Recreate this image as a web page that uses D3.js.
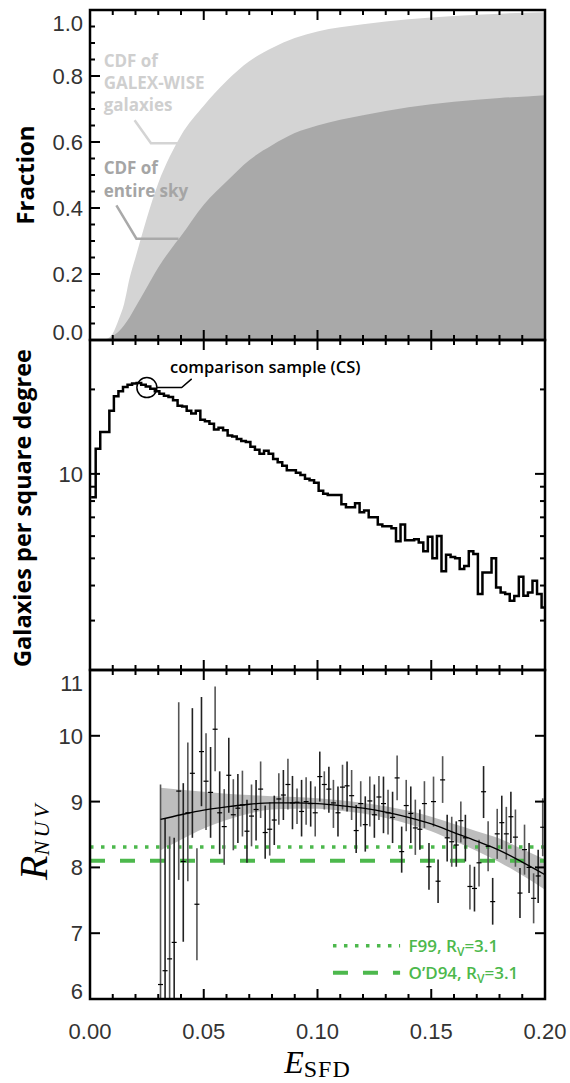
<!DOCTYPE html>
<html>
<head>
<meta charset="utf-8">
<script src="https://cdn.jsdelivr.net/npm/d3@7"></script>
<style>
  html, body { margin: 0; padding: 0; background: #fff; }
  svg { display: block; }
</style>
</head>
<body>
<svg id="sketchbook" width="570" height="1083"></svg>
<script>
/* ---------------------------------------------------------------- *
 * Data
 * ---------------------------------------------------------------- */
// top panel: cumulative fractions
const cdfE        = [0, 0.005, 0.0075, 0.010, 0.0125, 0.015, 0.0175, 0.020, 0.025, 0.030, 0.035, 0.040,
                     0.050, 0.060, 0.070, 0.080, 0.090, 0.100, 0.120, 0.140, 0.160, 0.180, 0.200];
const cdfGalaxies = [0, 0, 0.004, 0.02, 0.06, 0.11, 0.19, 0.25, 0.37, 0.475, 0.555, 0.62,
                     0.71, 0.785, 0.845, 0.885, 0.915, 0.935, 0.957, 0.972, 0.982, 0.989, 0.993];
const cdfSky      = [0, 0, 0, 0.012, 0.025, 0.045, 0.07, 0.10, 0.16, 0.22, 0.27, 0.315,
                     0.41, 0.48, 0.545, 0.59, 0.627, 0.65, 0.681, 0.705, 0.722, 0.733, 0.742];

// middle panel: histogram, bins of 0.002 starting at 0.0005
const binWidth = 0.002;
const binStart = 0.0005;
const galaxyDensity = [
  8.25, 12.3, 14.1, 14.1, 16.8, 18.9, 19.7, 20.4, 20.8, 21.0,
  21.1, 20.8, 20.5, 20.1, 19.7, 19.3, 19.0, 18.8, 18.3, 17.5,
  17.4, 16.8, 16.4, 16.8, 15.6, 15.4, 15.1, 14.4, 14.6, 14.3,
  13.7, 13.6, 13.3, 13.1, 13.0, 12.5, 12.2, 11.8, 12.1, 11.8,
  11.3, 11.0, 10.7, 10.3, 10.3, 10.1, 9.9, 9.6, 9.5, 9.3,
  8.7, 8.5, 8.4, 8.4, 8.4, 7.8, 7.6, 7.6, 7.85, 7.3,
  7.4, 7.0, 7.0, 6.6, 6.5, 6.5, 6.4, 5.75, 6.6, 5.8,
  5.8, 5.85, 5.7, 5.3, 5.97, 5.0, 6.0, 4.5, 5.15, 5.06,
  5.0, 4.58, 4.7, 5.3, 5.18, 3.73, 4.45, 4.45, 5.0, 3.94,
  3.78, 3.73, 3.53, 3.67, 4.3, 3.68, 3.78, 4.16, 3.73, 3.34
];

// bottom panel: R_NUV per E bin (step 0.002 from 0.031)
const rStart = 0.031;
const rStep  = 0.002;
const rNUV = [
  6.22, 6.43, 6.61, 6.86, 9.16, 8.09, 8.83, 9.43, 7.44, 9.76,
  9.31, 9.14, 10.10, 8.83, 8.62, 9.40, 8.80, 8.90, 8.95, 8.55,
  8.78, 8.88, 9.19, 8.53, 8.58, 8.72, 9.04, 9.10, 9.26, 8.98,
  8.99, 8.85, 9.00, 8.97, 8.83, 9.38, 9.26, 9.19, 8.98, 8.83,
  9.22, 9.24, 9.09, 8.56, 8.97, 8.65, 9.01, 8.80, 9.07, 8.97,
  8.83, 8.76, 9.36, 8.24, 8.94, 8.82, 8.60, 8.58, 8.97, 8.01,
  9.00, 7.79, 9.33, 8.45, 8.39, 8.34, 8.71, 8.45, 7.71, 7.68,
  8.07, 9.15, 8.32, 7.48, 8.51, 8.68, 8.51, 8.77, 8.46, 7.61,
  8.27, 8.00, 7.53, 7.87, 8.61
];
const rNUVHigh = [
  9.26, 8.75, 8.47, 8.45, 10.51, 9.28, 9.90, 10.42, 8.29, 10.59,
  10.04, 9.83, 10.75, 9.46, 9.19, 9.97, 9.34, 9.42, 9.47, 9.03,
  9.26, 9.33, 9.61, 8.94, 8.99, 9.09, 9.43, 9.48, 9.65, 9.39,
  9.20, 9.33, 9.37, 9.31, 9.23, 9.76, 9.46, 9.53, 9.33, 9.23,
  9.56, 9.61, 9.48, 8.95, 9.31, 9.08, 9.38, 9.26, 9.39, 9.38,
  9.18, 9.15, 9.70, 8.62, 9.33, 9.23, 9.03, 8.88, 9.31, 8.37,
  9.38, 8.12, 9.69, 8.80, 8.77, 8.70, 9.00, 8.80, 8.04, 8.01,
  8.42, 9.54, 8.70, 7.84, 8.89, 9.09, 8.92, 9.15, 8.88, 7.99,
  8.65, 8.37, 7.91, 8.27, 9.05
];
const rNUVLow = [
  3.18, 4.11, 4.75, 5.27, 7.81, 6.87, 7.79, 8.45, 6.59, 8.93,
  8.57, 8.45, 9.46, 8.20, 8.04, 8.83, 8.26, 8.37, 8.47, 8.07,
  8.32, 8.41, 8.75, 8.13, 8.18, 8.34, 8.65, 8.72, 8.88, 8.58,
  8.66, 8.47, 8.65, 8.62, 8.47, 9.00, 8.88, 8.83, 8.60, 8.47,
  8.88, 8.85, 8.72, 8.22, 8.62, 8.24, 8.62, 8.45, 8.72, 8.52,
  8.50, 8.37, 9.02, 7.92, 8.55, 8.37, 8.19, 8.27, 8.60, 7.66,
  8.62, 7.46, 8.98, 8.09, 8.01, 8.01, 8.38, 8.09, 7.36, 7.33,
  7.71, 8.75, 7.94, 7.13, 8.13, 8.28, 8.12, 8.37, 8.01, 7.23,
  7.89, 7.61, 7.15, 7.46, 8.17
];

// fit and its confidence band
const fitE     = [0.031, 0.04, 0.05, 0.06, 0.07, 0.08, 0.09, 0.10, 0.11, 0.12, 0.13, 0.14, 0.15, 0.16, 0.17, 0.18, 0.19, 0.20];
const fitR     = [8.73, 8.80, 8.87, 8.92, 8.96, 8.98, 8.98, 8.97, 8.94, 8.90, 8.84, 8.76, 8.66, 8.53, 8.40, 8.26, 8.08, 7.89];
const fitUpper = [9.21, 9.18, 9.15, 9.12, 9.10, 9.08, 9.07, 9.05, 9.02, 8.98, 8.93, 8.86, 8.77, 8.66, 8.55, 8.44, 8.28, 8.12];
const fitLower = [8.26, 8.42, 8.59, 8.72, 8.82, 8.88, 8.89, 8.89, 8.86, 8.82, 8.75, 8.66, 8.55, 8.40, 8.25, 8.08, 7.88, 7.66];

// reference lines
const refF99  = 8.31;
const refOD94 = 8.10;

// ticks
const xMajor     = [0, 0.05, 0.10, 0.15, 0.20];
const xMajorText = ["0.00", "0.05", "0.10", "0.15", "0.20"];
const fracMajor  = [0, 0.2, 0.4, 0.6, 0.8, 1.0];
const fracText   = ["0.0", "0.2", "0.4", "0.6", "0.8", "1.0"];
const densMajor  = [10];
const densMinor  = [2, 3, 4, 5, 6, 7, 8, 9, 20, 30];
const rMajor     = [6, 7, 8, 9, 10, 11];

/* ---------------------------------------------------------------- *
 * Layout
 * ---------------------------------------------------------------- */
const L = 90, R = 545;
const P1 = { top: 10,  bottom: 340 };
const P2 = { top: 340, bottom: 670 };
const P3 = { top: 670, bottom: 999 };

const GREEN = "#4cb84c";
const LIGHT = "#d4d4d4";
const DARK  = "#a9a9a9";
const TICKFONT = "'Liberation Sans', Arial, sans-serif";
const LABFONT  = "'Open Sans', 'DejaVu Sans', sans-serif";
const SERIF    = "'Liberation Serif', 'DejaVu Serif', serif";

const svg = d3.select("#sketchbook");

const x  = d3.scaleLinear().domain([0, 0.2]).range([L, R]);
const y1 = d3.scaleLinear().domain([0, 1]).range([P1.bottom, P1.top]);
const y2 = d3.scaleLog().domain([2, 30]).range([P2.bottom, P2.top]);
const y3 = d3.scaleLinear().domain([6, 11]).range([P3.bottom, P3.top]);

// clip paths, one per panel
const defs = svg.append("defs");
[P1, P2, P3].forEach((p, i) => {
    defs.append("clipPath").attr("id", "clip" + i)
        .append("rect")
        .attr("x", L).attr("y", p.top)
        .attr("width", R - L).attr("height", p.bottom - p.top);
});

/* ---------------------------------------------------------------- *
 * Panel 1 : CDFs
 * ---------------------------------------------------------------- */
const g1 = svg.append("g").attr("clip-path", "url(#clip0)");

const areaOf = (vals) => d3.area()
    .x((d, i) => x(cdfE[i]))
    .y0(y1(0))
    .y1((d, i) => y1(vals[i]))
    .curve(d3.curveMonotoneX)(vals);

g1.append("path").attr("d", areaOf(cdfGalaxies)).attr("fill", LIGHT);
g1.append("path").attr("d", areaOf(cdfSky)).attr("fill", DARK);

// labels with leader lines
const leader = d3.line().x(d => x(d[0])).y(d => y1(d[1]));
svg.append("path")
    .attr("d", leader([[0.0196, 0.666], [0.0268, 0.596], [0.0389, 0.596]]))
    .attr("fill", "none").attr("stroke", LIGHT).attr("stroke-width", 2.5);
svg.append("path")
    .attr("d", leader([[0.0116, 0.408], [0.0204, 0.307], [0.0389, 0.307]]))
    .attr("fill", "none").attr("stroke", DARK).attr("stroke-width", 2.5);

const cdfLabel = (lines, fracs, color) => {
    lines.forEach((t, i) => {
        svg.append("text")
            .attr("x", x(0.006)).attr("y", y1(fracs[i]))
            .attr("font-family", LABFONT).attr("font-weight", 700)
            .attr("font-size", 17).attr("fill", color)
            .text(t);
    });
};
cdfLabel(["CDF of", "GALEX-WISE", "galaxies"], [0.828, 0.761, 0.694], "#cfcfcf");
cdfLabel(["CDF of", "entire sky"], [0.502, 0.432], "#a5a5a5");

/* ---------------------------------------------------------------- *
 * Panel 2 : histogram
 * ---------------------------------------------------------------- */
const g2 = svg.append("g").attr("clip-path", "url(#clip1)");
const histPts = galaxyDensity.map((v, i) => [binStart + i * binWidth, v]);
histPts.push([binStart + galaxyDensity.length * binWidth, galaxyDensity[galaxyDensity.length - 1]]);

g2.append("path")
    .attr("d", d3.line().x(d => x(d[0])).y(d => y2(d[1])).curve(d3.curveStepAfter)(histPts))
    .attr("fill", "none").attr("stroke", "#000").attr("stroke-width", 2.5)
    .attr("stroke-linejoin", "miter");

// comparison sample annotation
const csE = 0.025, csV = 20.3;
svg.append("circle")
    .attr("cx", x(csE)).attr("cy", y2(csV)).attr("r", 10)
    .attr("fill", "none").attr("stroke", "#000").attr("stroke-width", 1.5);
svg.append("path")
    .attr("d", d3.line()([[x(csE) + 10, y2(csV)], [x(0.0403), y2(csV)], [x(0.0447), y2(21.8)]]))
    .attr("fill", "none").attr("stroke", "#000").attr("stroke-width", 1.5);
svg.append("text")
    .attr("x", x(0.0352)).attr("y", y2(22.8))
    .attr("font-family", LABFONT).attr("font-weight", 600)
    .attr("font-size", 16.5).attr("fill", "#000")
    .text("comparison sample (CS)");

/* ---------------------------------------------------------------- *
 * Panel 3 : R_NUV
 * ---------------------------------------------------------------- */
const g3 = svg.append("g").attr("clip-path", "url(#clip2)");

g3.append("path")
    .attr("d", d3.area()
        .x((d, i) => x(fitE[i]))
        .y0((d, i) => y3(fitLower[i]))
        .y1((d, i) => y3(fitUpper[i]))
        .curve(d3.curveMonotoneX)(fitE))
    .attr("fill", "#bdbdbd");

g3.append("line")
    .attr("x1", x(0)).attr("x2", x(0.2))
    .attr("y1", y3(refF99)).attr("y2", y3(refF99))
    .attr("stroke", GREEN).attr("stroke-width", 3.5)
    .attr("stroke-dasharray", "3.5,7.5");
g3.append("line")
    .attr("x1", x(0)).attr("x2", x(0.2))
    .attr("y1", y3(refOD94)).attr("y2", y3(refOD94))
    .attr("stroke", GREEN).attr("stroke-width", 4)
    .attr("stroke-dasharray", "15,15");

const pts = rNUV.map((v, i) => ({ e: rStart + i * rStep, v: v, hi: rNUVHigh[i], lo: rNUVLow[i] }));

g3.selectAll("line.err")
    .data(pts).enter().append("line")
    .attr("class", "err")
    .attr("x1", d => x(d.e)).attr("x2", d => x(d.e))
    .attr("y1", d => y3(d.hi)).attr("y2", d => y3(d.lo))
    .attr("stroke", (d, i) => i % 2 ? "#222" : "#555").attr("stroke-width", 1.6);
g3.selectAll("line.cen")
    .data(pts).enter().append("line")
    .attr("class", "cen")
    .attr("x1", d => x(d.e) - 2.5).attr("x2", d => x(d.e) + 2.5)
    .attr("y1", d => y3(d.v)).attr("y2", d => y3(d.v))
    .attr("stroke", "#000").attr("stroke-width", 1.2);

g3.append("path")
    .attr("d", d3.line().x((d, i) => x(fitE[i])).y((d, i) => y3(fitR[i])).curve(d3.curveMonotoneX)(fitE))
    .attr("fill", "none").attr("stroke", "#000").attr("stroke-width", 1.3);

// legend
const legend = [
    { r: 6.81, dash: "3.5,7.5", w: 3.5, name: "F99, R", sub: "V", tail: "=3.1" },
    { r: 6.40, dash: "15,15",   w: 4,   name: "O\u2019D94, R", sub: "V", tail: "=3.1" }
];
legend.forEach(d => {
    svg.append("line")
        .attr("x1", x(0.1068)).attr("x2", x(0.1363))
        .attr("y1", y3(d.r)).attr("y2", y3(d.r))
        .attr("stroke", GREEN).attr("stroke-width", d.w)
        .attr("stroke-dasharray", d.dash);
    const t = svg.append("text")
        .attr("x", x(0.1400)).attr("y", y3(d.r) + 6)
        .attr("font-family", LABFONT).attr("font-weight", 600)
        .attr("font-size", 17).attr("fill", GREEN);
    t.append("tspan").text(d.name);
    t.append("tspan").attr("font-size", 12).attr("dy", 4).text(d.sub);
    t.append("tspan").attr("dy", -4).text(d.tail);
});

/* ---------------------------------------------------------------- *
 * Axes, ticks, frames
 * ---------------------------------------------------------------- */
const tick = (x1, y1_, x2, y2_, w) => svg.append("line")
    .attr("x1", x1).attr("y1", y1_).attr("x2", x2).attr("y2", y2_)
    .attr("stroke", "#000").attr("stroke-width", w);

const xMinor = d3.range(0, 0.2001, 0.01).filter(v => !xMajor.some(m => Math.abs(m - v) < 1e-6));

[P1, P2, P3].forEach(p => {
    xMajor.forEach(v => {
        tick(x(v), p.bottom, x(v), p.bottom - 10, 2);
        tick(x(v), p.top, x(v), p.top + 10, 2);
    });
    xMinor.forEach(v => {
        tick(x(v), p.bottom, x(v), p.bottom - 5, 2);
        tick(x(v), p.top, x(v), p.top + 5, 2);
    });
});

// panel 1 y ticks (left only)
fracMajor.forEach(v => tick(L, y1(v), L + 10, y1(v), 2));
d3.range(0.05, 1.0, 0.05).forEach(v => tick(L, y1(v), L + 5, y1(v), 2));

// panel 2 log ticks (both sides)
densMajor.forEach(v => {
    tick(L, y2(v), L + 10, y2(v), 2);
    tick(R, y2(v), R - 10, y2(v), 2);
});
densMinor.forEach(v => {
    tick(L, y2(v), L + 5, y2(v), 2);
    tick(R, y2(v), R - 5, y2(v), 2);
});

// panel 3 y ticks (both sides)
rMajor.forEach(v => {
    tick(L, y3(v), L + 10, y3(v), 2);
    tick(R, y3(v), R - 10, y3(v), 2);
});

// frames
[P1, P2, P3].forEach(p => {
    svg.append("rect")
        .attr("x", L).attr("y", p.top)
        .attr("width", R - L).attr("height", p.bottom - p.top)
        .attr("fill", "none").attr("stroke", "#000").attr("stroke-width", 2.5);
});

// tick labels
const yLabel = (txt, yy, p) => svg.append("text")
    .attr("x", 83).attr("y", Math.min(Math.max(yy, p.top + 13), p.bottom - 8))
    .attr("dy", "0.36em").attr("text-anchor", "end")
    .attr("font-family", TICKFONT).attr("font-size", 22).attr("fill", "#333")
    .text(txt);

fracMajor.forEach((v, i) => yLabel(fracText[i], y1(v), P1));
densMajor.forEach(v => yLabel(String(v), y2(v), P2));
rMajor.forEach(v => yLabel(String(v), y3(v), P3));

xMajor.forEach((v, i) => {
    svg.append("text")
        .attr("x", x(v)).attr("y", 1039)
        .attr("text-anchor", "middle")
        .attr("font-family", TICKFONT).attr("font-size", 22).attr("fill", "#333")
        .text(xMajorText[i]);
});

// axis titles
svg.append("text")
    .attr("transform", "translate(34," + (P1.top + P1.bottom) / 2 + ") rotate(-90)")
    .attr("text-anchor", "middle")
    .attr("font-family", LABFONT).attr("font-weight", 700).attr("font-size", 24)
    .text("Fraction");

svg.append("text")
    .attr("transform", "translate(31," + ((P2.top + P2.bottom) / 2 + 3) + ") rotate(-90)")
    .attr("text-anchor", "middle")
    .attr("font-family", LABFONT).attr("font-weight", 700).attr("font-size", 23.5)
    .text("Galaxies per square degree");

const rt = svg.append("text")
    .attr("transform", "translate(47,880) rotate(-90)")
    .attr("font-family", SERIF).attr("font-style", "italic");
rt.append("tspan").attr("font-size", 40).text("R");
rt.append("tspan").attr("font-size", 22).attr("dy", 2).attr("letter-spacing", 3.5).text("NUV");

const xt = svg.append("text")
    .attr("x", (L + R) / 2).attr("y", 1073)
    .attr("text-anchor", "middle")
    .attr("font-family", SERIF);
xt.append("tspan").attr("font-style", "italic").attr("font-size", 32).text("E");
xt.append("tspan").attr("font-size", 24).attr("dy", 4).attr("letter-spacing", 1).text("SFD");
</script>
</body>
</html>
